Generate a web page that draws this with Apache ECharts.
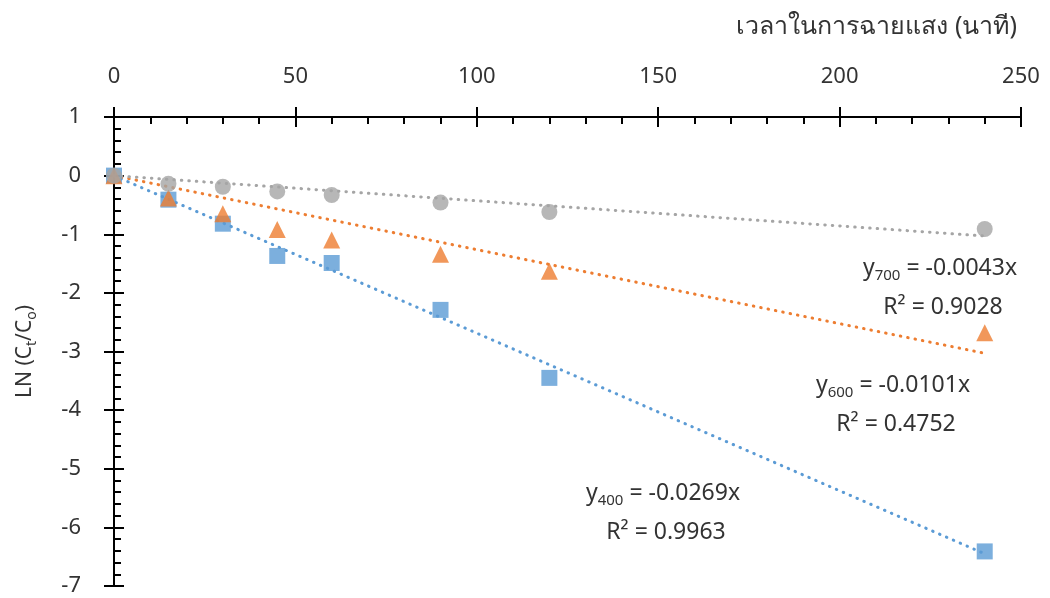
<!DOCTYPE html>
<html><head><meta charset="utf-8">
<script src="https://cdn.jsdelivr.net/npm/echarts@6/dist/echarts.min.js"></script>
<style>html,body{margin:0;padding:0;background:#fff}#c{width:1050px;height:598px}</style>
</head><body><div id="c"></div>
<script>
const times = [0, 15, 30, 45, 60, 90, 120, 240];
const ln400 = [0, -0.41, -0.82, -1.37, -1.49, -2.29, -3.45, -6.41];
const ln600 = [0, -0.38, -0.65, -0.92, -1.10, -1.34, -1.63, -2.68];
const ln700 = [0, -0.14, -0.19, -0.27, -0.33, -0.46, -0.62, -0.91];
const trendEnd = [-6.45, -3.03, -1.03]; // trendline value at x = 240 (400, 600, 700)
const trendX = [0, 240];
const labelsEq = ['-0.0269x', '-0.0101x', '-0.0043x'];
const labelsR2 = ['0.9963', '0.4752', '0.9028'];
const waves = ['400', '600', '700'];
const colors = ['#5B9BD5', '#ED7D31', '#A5A5A5'];
const symbols = ['rect', 'triangle', 'circle'];
const xTitle = 'เวลาในการฉายแสง (นาที)';

const FONT = '"Noto Sans", sans-serif';
const txt = '#333333';
const chart = echarts.init(document.getElementById('c'));
const dataSets = [ln400, ln600, ln700];

const series = [];
for (let i = 0; i < 3; i++) {
  series.push({
    type: 'line', xAxisIndex: 0, yAxisIndex: 0, symbol: 'none', silent: true,
    data: trendX.map(x => [x, x === 0 ? 0 : trendEnd[i]]),
    lineStyle: { color: colors[i], width: 3, type: [0.5, 7], cap: 'round' }, z: 2
  });
}
for (let i = 0; i < 3; i++) {
  series.push({
    type: 'scatter', xAxisIndex: 0, yAxisIndex: 0, symbol: symbols[i],
    symbolSize: symbols[i] === 'triangle' ? 17 : 16,
    data: times.map((t, k) => [t, dataSets[i][k]]),
    itemStyle: { color: colors[i] }, z: 3 + i
  });
}

const axisLine = { show: true, onZero: false, lineStyle: { color: '#000', width: 2 } };
chart.setOption({
  animation: false,
  textStyle: { fontFamily: FONT },
  grid: { left: 114, right: 29, top: 117, bottom: 12 },
  xAxis: [
    { type: 'value', position: 'top', min: 0, max: 250, interval: 50,
      axisLine: axisLine,
      axisTick: { show: true, inside: false, length: 10, lineStyle: { color: '#000', width: 2 } },
      axisLabel: { fontSize: 22, color: txt, margin: 29, fontFamily: FONT },
      splitLine: { show: false } },
    { type: 'value', position: 'top', min: 0, max: 250, interval: 50,
      axisLine: axisLine,
      axisTick: { show: true, inside: true, length: 10, lineStyle: { color: '#000', width: 2 } },
      minorTick: { show: true, splitNumber: 5, length: 7, lineStyle: { color: '#000', width: 2 } },
      axisLabel: { show: false }, splitLine: { show: false } }
  ],
  yAxis: [
    { type: 'value', min: -7, max: 1, interval: 1,
      axisLine: axisLine,
      axisTick: { show: true, inside: false, length: 10, lineStyle: { color: '#000', width: 2 } },
      axisLabel: { fontSize: 22, color: txt, margin: 33, fontFamily: FONT },
      splitLine: { show: false },
      name: '{n|LN (C}{s|t}{n|/C}{s|o}{n|)}', nameLocation: 'middle', nameGap: 75,
      nameTextStyle: { rich: {
        n: { fontSize: 21, color: txt, fontFamily: FONT },
        s: { fontSize: 14, color: txt, fontFamily: FONT, padding: [13, 0, 0, 0] }
      } } },
    { type: 'value', min: -7, max: 1, interval: 1, position: 'left',
      axisLine: axisLine,
      axisTick: { show: true, inside: true, length: 10, lineStyle: { color: '#000', width: 2 } },
      minorTick: { show: true, splitNumber: 5, length: 7, lineStyle: { color: '#000', width: 2 } },
      axisLabel: { show: false }, splitLine: { show: false } }
  ],
  series: series,
  graphic: [
    { type: 'text', right: 33, top: 14, style: { text: xTitle, fontSize: 25, fill: txt, fontFamily: FONT } },
    ...[[663, 493], [893, 385], [940, 268]].flatMap((p, i) => [
      { type: 'text', x: p[0], y: p[1], style: {
        text: '{n|y}{s|' + waves[i] + '}{n| = ' + labelsEq[i] + '}', align: 'center', verticalAlign: 'middle',
        rich: { n: { fontSize: 23, fill: txt, fontFamily: FONT }, s: { fontSize: 15, fill: txt, fontFamily: FONT, padding: [15, 0, 0, 0] } } } },
      { type: 'text', x: p[0] + 3, y: p[1] + 39, style: {
        text: 'R² = ' + labelsR2[i], align: 'center', verticalAlign: 'middle', fontSize: 23, fill: txt, fontFamily: FONT } }
    ])
  ]
});
</script></body></html>
